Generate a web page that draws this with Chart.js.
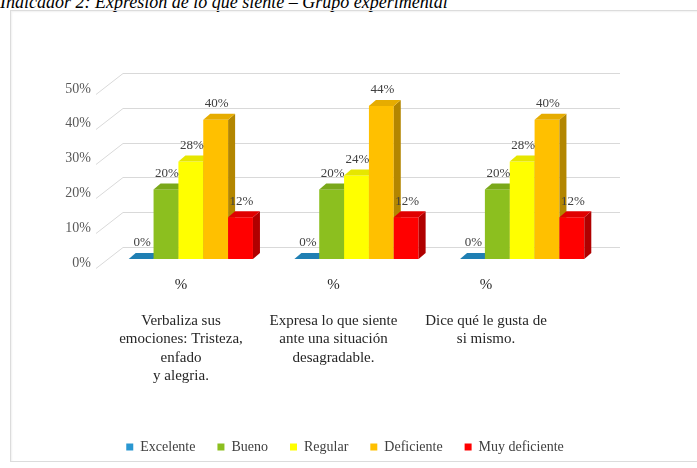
<!DOCTYPE html>
<html>
<head>
<meta charset="utf-8">
<script src="https://cdn.jsdelivr.net/npm/chart.js@4.4.1/dist/chart.umd.min.js"></script>
<style>
  html, body { margin: 0; padding: 0; background: #ffffff; }
  body { width: 697px; height: 468px; position: relative; overflow: hidden; }
  #title { position: absolute; left: 0px; top: -7px; font-family: "Liberation Serif", "DejaVu Serif", serif; font-style: italic; font-size: 18px; line-height: 18px; color: #000; white-space: nowrap; }
  #frame { position: absolute; left: 10px; top: 10px; width: 700px; height: 450px; border: 1px solid #dcdcdc; box-shadow: inset 1px 1px 2px rgba(0,0,0,0.06); }
  canvas { position: absolute; left: 0; top: 0; }
</style>
</head>
<body>
<div id="title">Indicador 2: Expresión de lo que siente – Grupo experimental</div>
<div id="frame"></div>
<canvas id="c" width="697" height="468"></canvas>
<script>
// ---- data ----
const categories = [
  ["%", "", "Verbaliza sus", "emociones: Tristeza,", "enfado", "y alegria."],
  ["%", "", "Expresa lo que siente", "ante una situación", "desagradable."],
  ["%", "", "Dice qué le gusta de", "si mismo."]
];
const seriesNames = ["Excelente", "Bueno", "Regular", "Deficiente", "Muy deficiente"];
const excelente = [0, 0, 0];
const bueno = [0.20, 0.20, 0.20];
const regular = [0.28, 0.24, 0.28];
const deficiente = [0.40, 0.44, 0.40];
const muyDeficiente = [0.12, 0.12, 0.12];
const yTicks = [0, 0.1, 0.2, 0.3, 0.4, 0.5];

// ---- styles ----
const frontColors = ["#2a97d1", "#8cbf1f", "#ffff00", "#ffc000", "#ff0000"];
const topColors   = ["#1f7fb3", "#7aa81a", "#e6e600", "#e6ac00", "#e00000"];
const sideColors  = ["#1a6a96", "#5f8514", "#bdbd00", "#b38600", "#b00000"];
const serif = '"Liberation Serif", "DejaVu Serif", serif';

const seriesValues = [excelente, bueno, regular, deficiente, muyDeficiente];

const SX = 6, SY = -4;      // bar plane shift from the front plane
const DX = 7, DY = -6;      // bar depth
const WX = 21, WY = -16;    // back wall offset

const threeD = {
  id: 'threeD',
  beforeDatasetsDraw(chart) {
    const ctx = chart.ctx;
    const area = chart.chartArea;
    const yS = chart.scales.y;
    ctx.save();
    ctx.strokeStyle = '#d9d9d9';
    ctx.lineWidth = 1;
    yTicks.forEach(v => {
      const yp = Math.round(yS.getPixelForValue(v)) + 0.5;
      ctx.beginPath();
      ctx.moveTo(area.left - 6, yp + 5);
      ctx.lineTo(area.left + WX, yp + WY);
      ctx.lineTo(area.right + WX, yp + WY);
      ctx.stroke();
    });
    const n = chart.data.labels.length;
    for (let j = 0; j < n; j++) {
      for (let i = 0; i < chart.data.datasets.length; i++) {
        const el = chart.getDatasetMeta(i).data[j];
        const p = el.getProps(['x', 'y', 'base', 'width'], true);
        const l = p.x - p.width / 2 + SX, r = p.x + p.width / 2 + SX;
        const t = p.y + SY, b = p.base + SY;
        ctx.fillStyle = frontColors[i];
        ctx.fillRect(l, t, r - l, b - t);
        ctx.fillStyle = sideColors[i];
        ctx.beginPath();
        ctx.moveTo(r, t); ctx.lineTo(r + DX, t + DY); ctx.lineTo(r + DX, b + DY); ctx.lineTo(r, b);
        ctx.closePath(); ctx.fill();
        ctx.fillStyle = topColors[i];
        ctx.beginPath();
        ctx.moveTo(l, t); ctx.lineTo(l + DX, t + DY); ctx.lineTo(r + DX, t + DY); ctx.lineTo(r, t);
        ctx.closePath(); ctx.fill();
      }
    }
    ctx.restore();
    return false;
  },
  afterDraw(chart) {
    const ctx = chart.ctx;
    ctx.save();
    ctx.font = '13px ' + serif;
    ctx.fillStyle = '#404040';
    ctx.textAlign = 'center';
    ctx.textBaseline = 'middle';
    chart.data.datasets.forEach((ds, i) => {
      chart.getDatasetMeta(i).data.forEach((el, j) => {
        const p = el.getProps(['x', 'y'], true);
        ctx.fillText(Math.round(ds.data[j] * 100) + '%', p.x + SX + 1, p.y + SY - 16);
      });
    });
    ctx.restore();
  }
};

new Chart(document.getElementById('c'), {
  type: 'bar',
  data: {
    labels: categories.map((c, k) => k),
    datasets: seriesNames.map((name, i) => ({
      label: name,
      data: seriesValues[i],
      backgroundColor: frontColors[i],
      borderWidth: 0,
      categoryPercentage: 0.75,
      barPercentage: 1.0
    }))
  },
  options: {
    responsive: false,
    animation: false,
    devicePixelRatio: 1,
    layout: { padding: { left: 40, right: 47, top: 89, bottom: 4 } },
    scales: {
      x: { type: 'category', display: false, offset: true },
      xl: {
        type: 'linear', position: 'bottom', min: -0.518, max: 2.741, offset: false,
        grid: { display: false, drawTicks: false, offset: false }, border: { display: false },
        afterBuildTicks: s => { s.ticks = categories.map((c, k) => ({ value: k })); },
        afterFit: s => { s.height = 155; },
        ticks: {
          autoSkip: false, maxRotation: 0, padding: 13,
          color: '#262626',
          font: { family: serif, size: 15, lineHeight: 1.21 },
          callback: v => categories[v]
        }
      },
      y: {
        min: 0, max: 0.5,
        grid: { display: false, drawTicks: false }, border: { display: false },
        afterFit: s => { s.width = 62; },
        afterBuildTicks: s => { s.ticks = yTicks.map(v => ({ value: v })); },
        ticks: {
          padding: 11, color: '#595959',
          font: { family: serif, size: 14 },
          callback: v => Math.round(v * 100) + '%'
        }
      },
      yr: {
        type: 'linear', position: 'right', min: 0, max: 0.5,
        grid: { display: false, drawTicks: false }, border: { display: false },
        ticks: { display: false },
        afterFit: s => { s.width = 51; }
      }
    },
    plugins: {
      legend: {
        position: 'bottom',
        labels: {
          boxWidth: 7, boxHeight: 7, padding: 22,
          color: '#404040',
          font: { family: serif, size: 14 }
        }
      },
      tooltip: { enabled: false }
    }
  },
  plugins: [threeD]
});
</script>
</body>
</html>
